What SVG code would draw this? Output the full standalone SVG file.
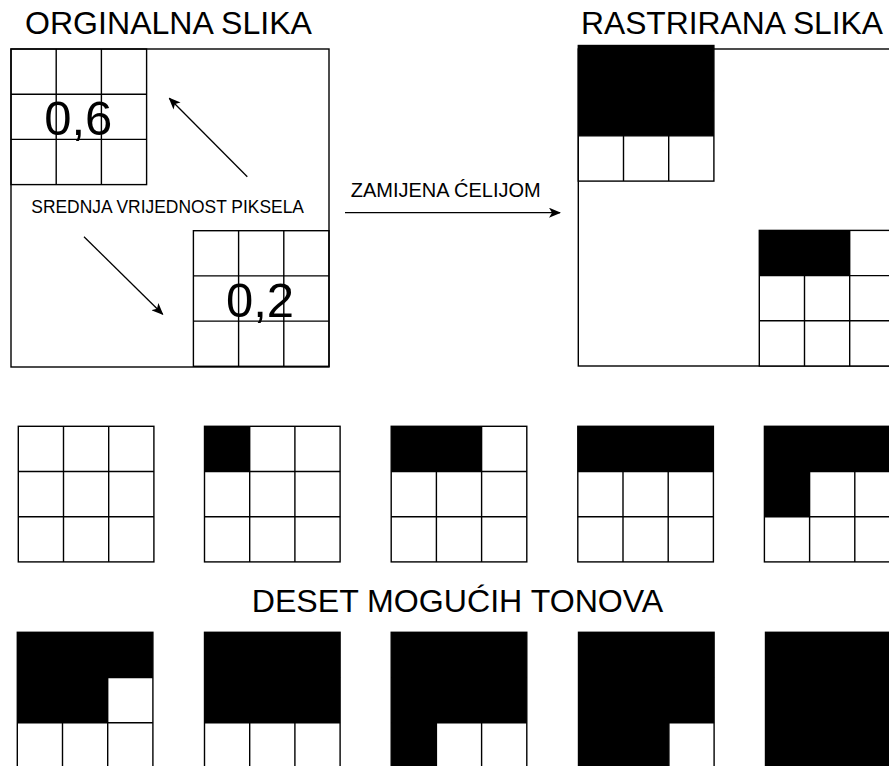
<svg xmlns="http://www.w3.org/2000/svg" xmlns:xlink="http://www.w3.org/1999/xlink" width="889" height="766" viewBox="0 0 889 766">
<style>
  text { font-family: "Liberation Sans", Arial, sans-serif; fill: #000; }
  .title { font-size: 31px; }
  .lbl { font-size: 20px; }
  .small { font-size: 17.5px; }
  .big { font-size: 49px; text-anchor: middle; }
  .bg { fill: #fff; }
  .frame { fill: none; stroke: #000; stroke-width: 1.4; }
  .box { fill: #fff; stroke: #000; stroke-width: 1.4; }
  .gl { fill: none; stroke: #000; stroke-width: 1.4; }
  .blk { fill: #000; }
  .conn { stroke: #000; stroke-width: 1.3; fill: none; }
</style>
<defs>
  <path id="lines3" class="gl" d="M45.2,0V135.6M90.4,0V135.6M0,45.2H135.6M0,90.4H135.6"/>
  <rect id="frame3" class="frame" x="0" y="0" width="135.6" height="135.6"/>
  <rect id="bg3" class="bg" x="0" y="0" width="135.6" height="135.6"/>
  <marker id="arr" viewBox="0 0 12 10" refX="11" refY="5" markerWidth="12" markerHeight="10" markerUnits="userSpaceOnUse" orient="auto">
    <path d="M0,0 L12,5 L0,10 L3,5 z" fill="#000"/>
  </marker>
</defs>
<rect width="889" height="766" fill="#fff"/>

<!-- Titles -->
<text class="title" x="25" y="33.5" textLength="287" lengthAdjust="spacingAndGlyphs">ORGINALNA SLIKA</text>
<text class="title" x="581" y="33.5" textLength="302" lengthAdjust="spacingAndGlyphs">RASTRIRANA SLIKA</text>
<text class="title" x="251.7" y="611.7" textLength="411.6" lengthAdjust="spacingAndGlyphs">DESET MOGUĆIH TONOVA</text>

<!-- Original image -->
<g id="original">
  <rect class="box" x="11" y="49" width="318" height="318"/>
  <g id="orig-block-a" transform="translate(11,49)">
    <use xlink:href="#lines3"/><use xlink:href="#frame3"/>
  </g>
  <g id="orig-block-b" transform="translate(193.4,230.7)">
    <use xlink:href="#lines3"/><use xlink:href="#frame3"/>
  </g>
  <text class="big" x="78.3" y="135">0,6</text>
  <text class="big" x="260" y="316.7">0,2</text>
  <text class="small" x="31.3" y="213.3" textLength="272.7" lengthAdjust="spacingAndGlyphs">SREDNJA VRIJEDNOST PIKSELA</text>
</g>

<!-- Rasterized image -->
<g id="raster">
  <rect class="box" x="578.3" y="49" width="318" height="317"/>
  <g id="rast-block-a" transform="translate(578.3,45.5)">
    <use xlink:href="#bg3"/><use xlink:href="#lines3"/>
    <rect class="blk" width="135.6" height="90.4"/>
    <use xlink:href="#frame3"/>
  </g>
  <g id="rast-block-b" transform="translate(759.3,230.4)">
    <use xlink:href="#bg3"/><use xlink:href="#lines3"/>
    <rect class="blk" width="90.4" height="45.2"/>
    <use xlink:href="#frame3"/>
  </g>
</g>

<text class="lbl" x="350.7" y="197.3" textLength="190" lengthAdjust="spacingAndGlyphs">ZAMIJENA ĆELIJOM</text>

<!-- Connectors -->
<g id="connectors">
  <line class="conn" x1="247.3" y1="176.7" x2="169.3" y2="98.3" marker-end="url(#arr)"/>
  <line class="conn" x1="84" y1="236.7" x2="162.7" y2="314.3" marker-end="url(#arr)"/>
  <line class="conn" x1="345" y1="212.7" x2="560" y2="212.7" marker-end="url(#arr)"/>
</g>

<!-- Ten tones -->
<g id="tone-0" transform="translate(18.3,426.3)">
  <use xlink:href="#bg3"/><use xlink:href="#lines3"/><use xlink:href="#frame3"/>
</g>
<g id="tone-1" transform="translate(204.5,426.3)">
  <use xlink:href="#bg3"/><use xlink:href="#lines3"/>
  <rect class="blk" width="45.2" height="45.2"/>
  <use xlink:href="#frame3"/>
</g>
<g id="tone-2" transform="translate(391.2,426.3)">
  <use xlink:href="#bg3"/><use xlink:href="#lines3"/>
  <rect class="blk" width="90.4" height="45.2"/>
  <use xlink:href="#frame3"/>
</g>
<g id="tone-3" transform="translate(577.8,426.3)">
  <use xlink:href="#bg3"/><use xlink:href="#lines3"/>
  <rect class="blk" width="135.6" height="45.2"/>
  <use xlink:href="#frame3"/>
</g>
<g id="tone-4" transform="translate(764.4,426.3)">
  <use xlink:href="#bg3"/><use xlink:href="#lines3"/>
  <path class="blk" d="M0,0H135.6V45.2H45.2V90.4H0Z"/>
  <use xlink:href="#frame3"/>
</g>
<g id="tone-5" transform="translate(17.3,632.3)">
  <use xlink:href="#bg3"/><use xlink:href="#lines3"/>
  <path class="blk" d="M0,0H135.6V45.2H90.4V90.4H0Z"/>
  <use xlink:href="#frame3"/>
</g>
<g id="tone-6" transform="translate(204.5,632.3)">
  <use xlink:href="#bg3"/><use xlink:href="#lines3"/>
  <rect class="blk" width="135.6" height="90.4"/>
  <use xlink:href="#frame3"/>
</g>
<g id="tone-7" transform="translate(391.2,632.3)">
  <use xlink:href="#bg3"/><use xlink:href="#lines3"/>
  <path class="blk" d="M0,0H135.6V90.4H45.2V135.6H0Z"/>
  <use xlink:href="#frame3"/>
</g>
<g id="tone-8" transform="translate(578.5,632.3)">
  <use xlink:href="#bg3"/><use xlink:href="#lines3"/>
  <path class="blk" d="M0,0H135.6V90.4H90.4V135.6H0Z"/>
  <use xlink:href="#frame3"/>
</g>
<g id="tone-9" transform="translate(765.5,632.3)">
  <rect class="blk" width="135.6" height="135.6"/>
  <use xlink:href="#frame3"/>
</g>
</svg>
